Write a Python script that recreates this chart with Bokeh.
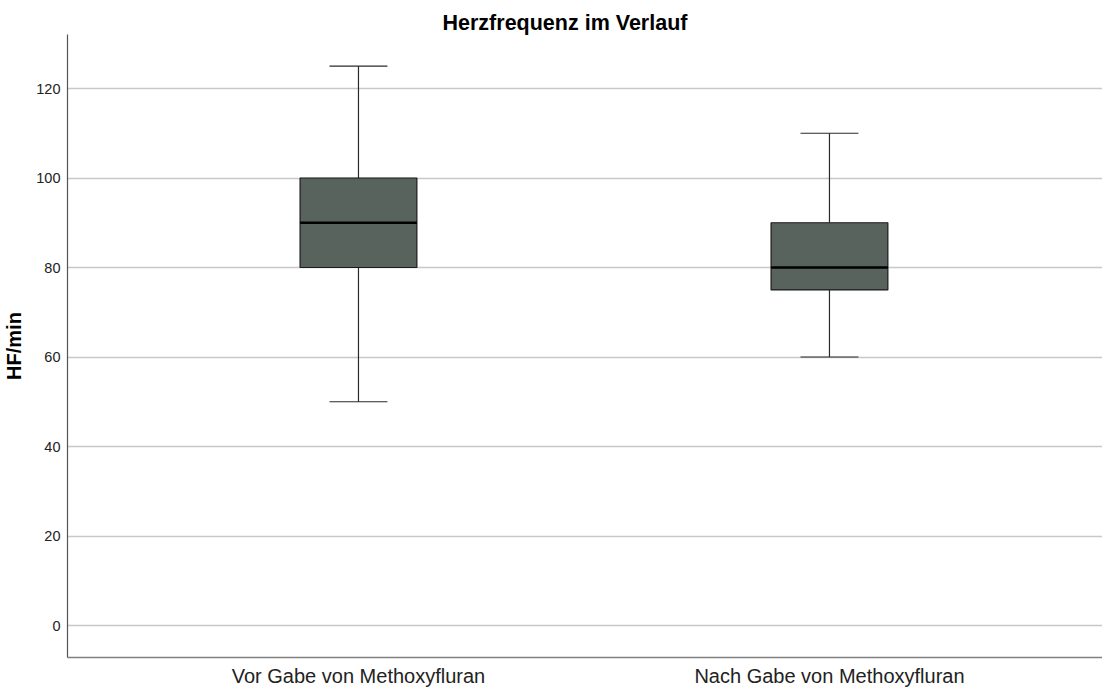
from bokeh.plotting import figure
from bokeh.models import FixedTicker, Range1d
from bokeh.embed import file_html
from bokeh.resources import INLINE

categories = ["Vor Gabe von Methoxyfluran", "Nach Gabe von Methoxyfluran"]
whisker_low = [50, 60]
q1 = [80, 75]
median = [90, 80]
q3 = [100, 90]
whisker_high = [125, 110]
y_ticks = [0, 20, 40, 60, 80, 100, 120]

xs = list(range(len(categories)))
box_w = 0.248
cap_w = 0.123

p = figure(frame_width=1035, frame_height=623, output_backend="svg", toolbar_location=None,
           x_range=Range1d(-0.6178, 1.5797), y_range=Range1d(-7.15, 132.07),
           min_border_left=65, min_border_right=0, min_border_top=34, min_border_bottom=28,
           title="Herzfrequenz im Verlauf")
p.outline_line_color = None
p.background_fill_color = "white"
p.border_fill_color = "white"

p.title.align = "left"
p.title.offset = 375
p.title.standoff = 0
p.title.text_font = "Liberation Sans"
p.title.text_font_size = "21.5px"
p.title.text_font_style = "bold"
p.title.text_color = "#000000"

# whiskers
p.segment(x0=xs, y0=whisker_low, x1=xs, y1=q1, line_color="#2a2a2a", line_width=1.2)
p.segment(x0=xs, y0=q3, x1=xs, y1=whisker_high, line_color="#2a2a2a", line_width=1.2)
p.segment(x0=[x - cap_w / 2 for x in xs], y0=whisker_low, x1=[x + cap_w / 2 for x in xs], y1=whisker_low,
          line_color="#2a2a2a", line_width=1.2)
p.segment(x0=[x - cap_w / 2 for x in xs], y0=whisker_high, x1=[x + cap_w / 2 for x in xs], y1=whisker_high,
          line_color="#2a2a2a", line_width=1.2)
# boxes
p.vbar(x=xs, width=box_w, bottom=q1, top=q3, fill_color="#59635e", line_color="#1a1a1a", line_width=1.2)
# medians
p.segment(x0=[x - box_w / 2 for x in xs], y0=median, x1=[x + box_w / 2 for x in xs], y1=median,
          line_color="#000000", line_width=2.5)

p.xgrid.visible = False
p.ygrid.ticker = FixedTicker(ticks=y_ticks)
p.ygrid.grid_line_color = "#c8c8c8"
p.ygrid.grid_line_width = 1.5
p.ygrid.level = "underlay"

p.yaxis.ticker = FixedTicker(ticks=y_ticks)
p.yaxis.axis_label = "HF/min"
p.yaxis.axis_label_text_font = "Liberation Sans"
p.yaxis.axis_label_text_font_size = "20px"
p.yaxis.axis_label_text_font_style = "bold"
p.yaxis.axis_label_text_color = "#000000"
p.yaxis.axis_label_standoff = 8
p.yaxis.major_label_text_font = "Liberation Sans"
p.yaxis.major_label_text_font_size = "14.5px"
p.yaxis.major_label_text_color = "#222222"
p.yaxis.major_label_standoff = 7
p.yaxis.major_tick_line_color = None
p.yaxis.minor_tick_line_color = None
p.yaxis.major_tick_out = 0
p.yaxis.major_tick_in = 0
p.yaxis.axis_line_color = "#555555"
p.yaxis.axis_line_width = 1.2

p.xaxis.ticker = FixedTicker(ticks=xs)
p.xaxis.major_label_overrides = {i: c for i, c in zip(xs, categories)}
p.xaxis.major_label_text_font = "Liberation Sans"
p.xaxis.major_label_text_font_size = "20px"
p.xaxis.major_label_text_color = "#222222"
p.xaxis.major_label_standoff = 7
p.xaxis.major_tick_line_color = None
p.xaxis.minor_tick_line_color = None
p.xaxis.major_tick_out = 0
p.xaxis.major_tick_in = 0
p.xaxis.axis_line_color = "#808080"
p.xaxis.axis_line_width = 1.5

open("out.html", "w").write(file_html(p, INLINE))
